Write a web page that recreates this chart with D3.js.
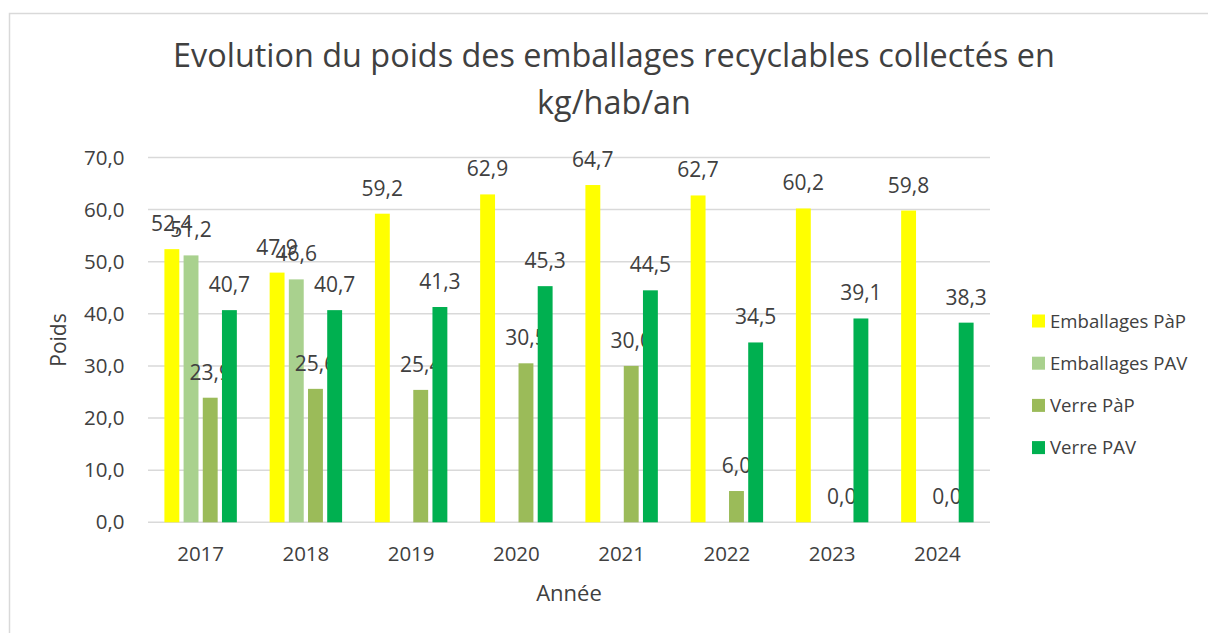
<!DOCTYPE html>
<html>
<head>
<meta charset="utf-8">
<script src="https://cdn.jsdelivr.net/npm/d3@7"></script>
<style>
  body { margin: 0; background: #fff; }
  text { font-family: "Open Sans", sans-serif; fill: #404040; }
</style>
</head>
<body>
<svg id="chart" width="1208" height="633"></svg>
<script>
// data
const years = ["2017", "2018", "2019", "2020", "2021", "2022", "2023", "2024"];
const seriesNames = ["Emballages PàP", "Emballages PAV", "Verre PàP", "Verre PAV"];
const emballagesPaP = [52.4, 47.9, 59.2, 62.9, 64.7, 62.7, 60.2, 59.8];
const emballagesPAV = [51.2, 46.6, null, null, null, null, null, null];
const verrePaP = [23.9, 25.6, 25.4, 30.5, 30.0, 6.0, 0.0, 0.0];
const verrePAV = [40.7, 40.7, 41.3, 45.3, 44.5, 34.5, 39.1, 38.3];
const colors = ["#FFFF00", "#A9D18E", "#9BBB59", "#00B050"];
const yTicks = [0, 10, 20, 30, 40, 50, 60, 70];

const allValues = [emballagesPaP, emballagesPAV, verrePaP, verrePAV];

const svg = d3.select("#chart");
const fmt = v => d3.format(".1f")(v).replace(".", ",");

// outer frame
svg.append("rect")
  .attr("x", 9.5).attr("y", 13.5)
  .attr("width", 1220).attr("height", 640)
  .attr("fill", "none").attr("stroke", "#D9D9D9").attr("stroke-width", 1.5);

const plotLeft = 148, plotRight = 990, plotTop = 157.4, plotBottom = 522.3;

const x0 = d3.scaleBand().domain(years).range([plotLeft, plotRight]);
const x1 = d3.scaleBand().domain(seriesNames)
  .range([16.4, x0.bandwidth() - 16.4]).paddingInner(0.224);
const y = d3.scaleLinear().domain([0, 70]).range([plotBottom, plotTop]);

// gridlines
svg.append("g").selectAll("line")
  .data(yTicks)
  .enter().append("line")
  .attr("x1", plotLeft).attr("x2", plotRight)
  .attr("y1", d => y(d)).attr("y2", d => y(d))
  .attr("stroke", "#D9D9D9").attr("stroke-width", 1.5);

// y tick labels
svg.append("g").selectAll("text")
  .data(yTicks)
  .enter().append("text")
  .attr("x", 124.5).attr("y", d => y(d))
  .attr("dy", "0.35em")
  .attr("text-anchor", "end")
  .style("font-size", "20.5px")
  .text(d => fmt(d));

// x tick labels
svg.append("g").selectAll("text")
  .data(years)
  .enter().append("text")
  .attr("x", d => x0(d) + x0.bandwidth() / 2)
  .attr("y", 561)
  .attr("text-anchor", "middle")
  .style("font-size", "20.5px")
  .text(d => d);

// bars
const groups = svg.append("g").selectAll("g")
  .data(years)
  .enter().append("g")
  .attr("transform", d => "translate(" + x0(d) + ",0)");

const cells = groups.selectAll("g")
  .data((d, i) => seriesNames.map((s, j) => ({ s: s, j: j, v: allValues[j][i] })).filter(c => c.v !== null))
  .enter().append("g");

cells.append("rect")
  .attr("x", d => x1(d.s))
  .attr("width", x1.bandwidth())
  .attr("y", d => y(d.v))
  .attr("height", d => y(0) - y(d.v))
  .attr("fill", d => colors[d.j]);

cells.append("text")
  .attr("x", d => x1(d.s) + x1.bandwidth() / 2)
  .attr("y", d => y(d.v) - 18)
  .attr("text-anchor", "middle")
  .style("font-size", "21px")
  .text(d => fmt(d.v));

// title
const title = svg.append("text")
  .attr("x", 614).attr("y", 67)
  .attr("text-anchor", "middle")
  .style("font-size", "32.4px");
title.append("tspan").attr("x", 614).text("Evolution du poids des emballages recyclables collectés en");
title.append("tspan").attr("x", 614).attr("dy", 46.5).text("kg/hab/an");

// axis titles
svg.append("text")
  .attr("x", 569).attr("y", 601)
  .attr("text-anchor", "middle")
  .style("font-size", "22px")
  .text("Année");

svg.append("text")
  .attr("transform", "translate(66,340) rotate(-90)")
  .attr("text-anchor", "middle")
  .style("font-size", "21px")
  .text("Poids");

// legend
const legend = svg.append("g").selectAll("g")
  .data(seriesNames)
  .enter().append("g")
  .attr("transform", (d, i) => "translate(1032," + (321 + i * 42.2) + ")");

legend.append("rect")
  .attr("x", 0).attr("y", -6.5)
  .attr("width", 13).attr("height", 13)
  .attr("fill", (d, i) => colors[i]);

legend.append("text")
  .attr("x", 18).attr("y", 0)
  .attr("dy", "0.35em")
  .style("font-size", "18.6px")
  .text(d => d);
</script>
</body>
</html>
